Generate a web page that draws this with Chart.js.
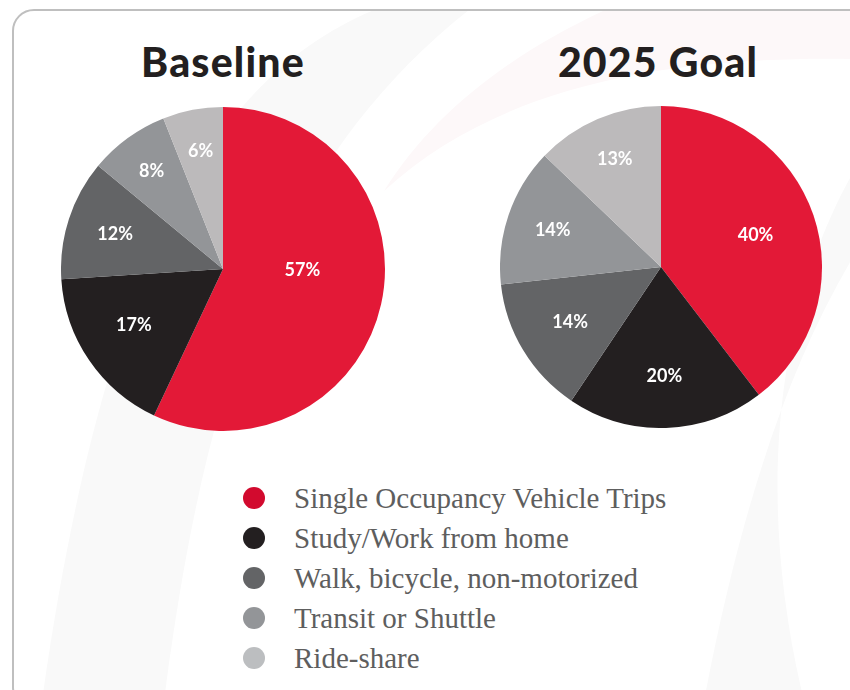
<!DOCTYPE html>
<html>
<head>
<meta charset="utf-8">
<script src="https://cdn.jsdelivr.net/npm/chart.js"></script>
<style>
  html, body { margin: 0; padding: 0; background: #ffffff; }
  body { width: 850px; height: 690px; position: relative; overflow: hidden; }
  #card {
    position: absolute; left: 12px; top: 9px; width: 900px; height: 700px;
    border: 2.5px solid #bfbfbf; border-radius: 22px; box-sizing: border-box;
    background: #ffffff; overflow: hidden;
  }
  #bg { position: absolute; left: 0; top: 0; }
  .title {
    position: absolute; width: 300px; text-align: center;
    font-family: Lato, "DejaVu Sans", sans-serif; font-weight: 900;
    font-size: 41px; letter-spacing: 1.2px; color: #231f20; line-height: 1;
  }
  .pie { position: absolute; }
  #legend { position: absolute; left: 243px; top: 478px; }
  .item { height: 40px; display: flex; align-items: center; }
  .dot { width: 22px; height: 22px; border-radius: 50%; margin-right: 29px; }
  .txt {
    font-family: "Liberation Serif", "Times New Roman", serif; font-size: 29px;
    color: #5e5e5e; white-space: nowrap;
  }
</style>
</head>
<body>
<div id="card">
  <svg id="bg" width="900" height="700">
    <path d="M370 -5 C 200 60, 90 250, 28 690 L 150 690 C 190 380, 260 150, 460 -5 Z" fill="#f9f9f9"/>
    <path d="M690 690 C 730 480, 790 290, 900 160 L 900 80 C 800 180, 720 400, 790 690 Z" fill="#f9f9f9"/>
    <path d="M370 180 C 500 60, 700 40, 900 50 L 900 -5 L 600 -5 C 500 40, 420 100, 370 180 Z" fill="#fdf8f9"/>
  </svg>
</div>

<div class="title" style="left:73px; top:41px;">Baseline</div>
<div class="title" style="left:508px; top:41px;">2025 Goal</div>

<canvas id="baselinePie" class="pie" style="left:61px; top:107px;"></canvas>
<canvas id="goalPie" class="pie" style="left:500px; top:106px;"></canvas>

<div id="legend"></div>

<script>
// ====== DỮ LIỆU ======
const categories = [
  "Single Occupancy Vehicle Trips",
  "Study/Work from home",
  "Walk, bicycle, non-motorized",
  "Transit or Shuttle",
  "Ride-share"
];
const baselineValues = [57, 17, 12, 8, 6];
const goalValues = [40, 20, 14, 14, 13];

// ====== MÀU ======
const sliceColors = ["#e31937", "#231f20", "#636466", "#939598", "#bcbabb"];
const legendColors = ["#d20a2e", "#231f20", "#636466", "#939598", "#bcbec0"];

// vị trí nhãn trong lát (tỉ lệ bán kính, lệch góc theo độ)
const baselineLabelRadius = [0.49, 0.65, 0.70, 0.75, 0.74];
const baselineLabelShift = [-12, 2, 0, 0, 0];
const goalLabelRadius = [0.62, 0.68, 0.66, 0.71, 0.73];
const goalLabelShift = [0, 0, 0, 0, 0];

// ====== PLUGIN VẼ NHÃN % ======
const sliceLabels = {
  id: "sliceLabels",
  afterDatasetsDraw(chart, args, opts) {
    const ctx = chart.ctx;
    const meta = chart.getDatasetMeta(0);
    const values = chart.data.datasets[0].data;
    ctx.save();
    ctx.fillStyle = "#ffffff";
    ctx.font = "700 18px Lato, 'DejaVu Sans', sans-serif";
    ctx.textAlign = "center";
    ctx.textBaseline = "middle";
    meta.data.forEach((arc, i) => {
      const p = arc.getProps(["x", "y", "startAngle", "endAngle", "outerRadius"], true);
      const mid = (p.startAngle + p.endAngle) / 2 + (opts.shift[i] || 0) * Math.PI / 180;
      const r = p.outerRadius * opts.radius[i];
      ctx.fillText(values[i] + "%", p.x + Math.cos(mid) * r, p.y + Math.sin(mid) * r);
    });
    ctx.restore();
  }
};

function makePie(id, size, values, radius, shift) {
  const el = document.getElementById(id);
  el.width = size;
  el.height = size;
  return new Chart(el, {
    type: "pie",
    data: {
      labels: categories,
      datasets: [{
        data: values,
        backgroundColor: sliceColors,
        borderWidth: 0,
        hoverOffset: 0
      }]
    },
    options: {
      responsive: false,
      animation: false,
      layout: { padding: 0 },
      plugins: {
        legend: { display: false },
        tooltip: { enabled: false },
        sliceLabels: { radius: radius, shift: shift }
      }
    },
    plugins: [sliceLabels]
  });
}

makePie("baselinePie", 324, baselineValues, baselineLabelRadius, baselineLabelShift);
makePie("goalPie", 322, goalValues, goalLabelRadius, goalLabelShift);

// ====== CHÚ THÍCH ======
const legend = document.getElementById("legend");
categories.forEach((name, i) => {
  const row = document.createElement("div");
  row.className = "item";
  row.innerHTML = '<div class="dot" style="background:' + legendColors[i] + '"></div><div class="txt"></div>';
  row.querySelector(".txt").textContent = name;
  legend.appendChild(row);
});
</script>
</body>
</html>
